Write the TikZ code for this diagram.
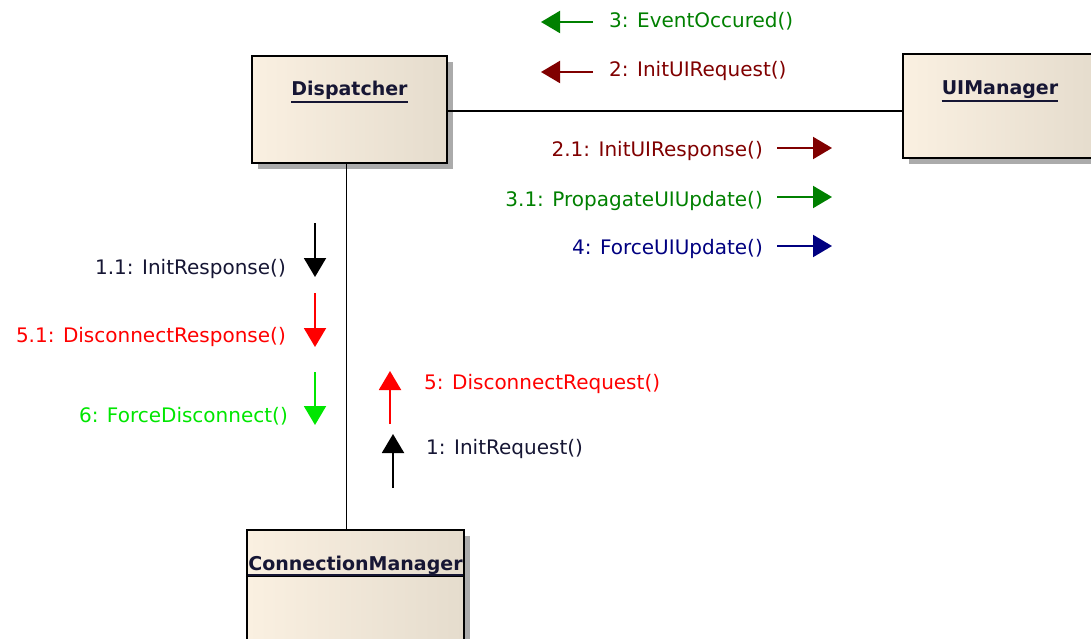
\documentclass[tikz,border=0pt]{standalone}
\usepackage{fontspec}
\setmainfont{DejaVu Sans}
\usetikzlibrary{arrows.meta,shadows}

\definecolor{boxleft}{RGB}{250,240,225}
\definecolor{boxright}{RGB}{229,220,205}
\definecolor{titleink}{RGB}{22,22,52}
\definecolor{msgmaroon}{RGB}{128,0,0}
\definecolor{msggreen}{RGB}{0,128,0}
\definecolor{msgnavy}{RGB}{0,0,128}
\definecolor{msgred}{RGB}{255,0,0}
\definecolor{msglime}{RGB}{0,230,0}
\definecolor{msgblack}{RGB}{0,0,0}

\tikzset{
  classbox/.style={draw=black, line width=2.2pt, rectangle, inner sep=0pt,
    left color=boxleft, right color=boxright,
    drop shadow={shadow xshift=6pt, shadow yshift=-6pt, fill=black!33, opacity=1}},
  classtitle/.style={inner sep=0pt, anchor=base, text=titleink,
    font=\bfseries\fontsize{19}{23}\selectfont},
  underl/.style={line width=2pt, titleink},
  assoc/.style={draw=black, line width=1.9pt},
  msgarrow/.style={line width=2pt, -{Triangle[length=19pt,width=22pt]}},
  msglabel/.style={inner sep=0pt, font=\fontsize{20}{24}\selectfont}
}

\begin{document}
\begin{tikzpicture}[x=1pt,y=-1pt]
\useasboundingbox (0,0) rectangle (1091,639);

% class boxes
\node[classbox, minimum width=195pt, minimum height=107pt] (disp) at (349.5,109.5) {};
\node[classbox, minimum width=194pt, minimum height=104pt] (ui) at (1000,106) {};
\node[classbox, minimum width=217pt, minimum height=110pt] (cm) at (355.5,585) {};

% associations
\draw[assoc] ([yshift=-1.5pt]disp.east) -- ([yshift=-1.5pt]disp.east -| ui.west);
\draw[assoc] ([xshift=-3pt]disp.south) -- ([xshift=-3pt]disp.south |- cm.north);

% class names
\node[classtitle] (dispname) at (349.5,96) {Dispatcher};
\draw[underl] ([yshift=-5.7pt]dispname.base west) -- ([yshift=-5.7pt]dispname.base east);
\node[classtitle] (uiname) at (1000,95) {UIManager};
\draw[underl] ([yshift=-5.7pt]uiname.base west) -- ([yshift=-5.7pt]uiname.base east);
\node[classtitle] (cmname) at (355.5,570) {ConnectionManager};
\draw[underl] ([yshift=-5pt]cmname.base west) -- ([yshift=-5pt]cmname.base east);
\draw[line width=1.4pt] ([yshift=-6.5pt]cmname.base -| cm.west) -- ([yshift=-6.5pt]cmname.base -| cm.east);

% messages along Dispatcher -- UIManager
\coordinate (m3s) at (593,22);  \coordinate (m3e) at (541,22);
\coordinate (m2s) at (593,72);  \coordinate (m2e) at (541,72);
\coordinate (m21s) at (777,148); \coordinate (m21e) at (832,148);
\coordinate (m31s) at (777,197); \coordinate (m31e) at (832,197);
\coordinate (m4s) at (777,246);  \coordinate (m4e) at (832,246);
\draw[msgarrow, msggreen] (m3s) -- (m3e);
\draw[msgarrow, msgmaroon] (m2s) -- (m2e);
\draw[msgarrow, msgmaroon] (m21s) -- (m21e);
\draw[msgarrow, msggreen] (m31s) -- (m31e);
\draw[msgarrow, msgnavy] (m4s) -- (m4e);
\node[msglabel, anchor=base west, text=msggreen] (l3) at (609,28) {3: EventOccured()};
\node[msglabel, anchor=base west, text=msgmaroon] (l2) at (609,77) {2: InitUIRequest()};
\node[msglabel, anchor=base east, text=msgmaroon] (l21) at (763,157) {2.1: InitUIResponse()};
\node[msglabel, anchor=base east, text=msggreen] (l31) at (763,206) {3.1: PropagateUIUpdate()};
\node[msglabel, anchor=base east, text=msgnavy] (l4) at (763,254) {4: ForceUIUpdate()};

% messages along Dispatcher -- ConnectionManager
\coordinate (m11s) at (315,223); \coordinate (m11e) at (315,277);
\coordinate (m51s) at (315,293); \coordinate (m51e) at (315,347);
\coordinate (m6s) at (315,372);  \coordinate (m6e) at (315,425);
\coordinate (m5s) at (390,424);  \coordinate (m5e) at (390,371);
\coordinate (m1s) at (393,488);  \coordinate (m1e) at (393,434);
\draw[msgarrow, msgblack] (m11s) -- (m11e);
\draw[msgarrow, msgred] (m51s) -- (m51e);
\draw[msgarrow, msglime] (m6s) -- (m6e);
\draw[msgarrow, msgred] (m5s) -- (m5e);
\draw[msgarrow, msgblack] (m1s) -- (m1e);
\node[msglabel, anchor=base east, text=titleink] (l11) at (286,274) {1.1: InitResponse()};
\node[msglabel, anchor=base east, text=msgred] (l51) at (286,342) {5.1: DisconnectResponse()};
\node[msglabel, anchor=base east, text=msglime] (l6) at (288,422) {6: ForceDisconnect()};
\node[msglabel, anchor=base west, text=msgred] (l5) at (424,389) {5: DisconnectRequest()};
\node[msglabel, anchor=base west, text=titleink] (l1) at (426,454) {1: InitRequest()};

\end{tikzpicture}
\end{document}
